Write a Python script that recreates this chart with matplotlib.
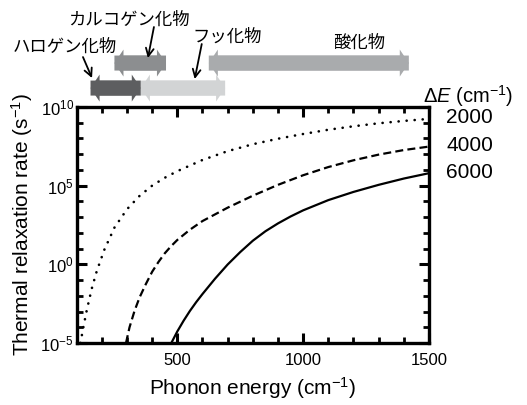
import numpy as np
import matplotlib
matplotlib.use("Agg")
import matplotlib.pyplot as plt
import matplotlib.ticker as mtick
from matplotlib.patches import FancyArrow

plt.rcParams["font.family"] = ["Liberation Sans", "DejaVu Sans"]
plt.rcParams["mathtext.fontset"] = "custom"
plt.rcParams["mathtext.rm"] = "Liberation Sans"
plt.rcParams["mathtext.it"] = "Liberation Sans:italic"
JP = ["Noto Sans CJK JP", "DejaVu Sans"]

# phonon energy (cm-1) -> log10 of thermal relaxation rate (s-1), per energy gap
gap_labels = ["2000", "4000", "6000"]
x_2000 = [115, 125, 140, 160, 180, 210, 250, 300, 350, 400, 450, 500, 600, 700,
          800, 900, 1000, 1100, 1200, 1300, 1400, 1500]
logw_2000 = [-5, -4.12, -2.92, -1.54, -0.42, 0.93, 2.33, 3.5, 4.35, 5.0, 5.5,
             5.92, 6.63, 7.19, 7.63, 7.98, 8.28, 8.55, 8.77, 8.96, 9.11, 9.24]
x_4000 = [296, 310, 330, 350, 375, 400, 425, 450, 475, 500, 550, 600, 700, 800,
          900, 1000, 1100, 1200, 1300, 1400, 1500]
logw_4000 = [-5, -4.0, -2.95, -2.1, -1.25, -0.47, 0.15, 0.7, 1.15, 1.55, 2.2,
             2.75, 3.6, 4.36, 5.05, 5.66, 6.18, 6.61, 6.97, 7.26, 7.48]
x_6000 = [476, 500, 525, 550, 575, 600, 650, 700, 750, 800, 850, 900, 950, 1000,
          1100, 1200, 1300, 1400, 1500]
logw_6000 = [-5, -4.26, -3.58, -2.96, -2.4, -1.885, -0.91, -0.01, 0.78, 1.5,
             2.1, 2.6, 3.04, 3.43, 4.08, 4.6, 5.05, 5.45, 5.79]

# phonon energy ranges of host materials (cm-1)
host_names = ["ハロゲン化物", "カルコゲン化物", "フッ化物", "酸化物"]
host_lo = [155, 250, 355, 625]
host_hi = [355, 455, 690, 1420]
host_colors = ["#5d5e60", "#8c8e90", "#d2d4d5", "#a9abad"]
host_row = [88, 63, 88, 63]

fig = plt.figure(figsize=(5.27, 4.05), dpi=100)
ax = fig.add_axes([0.1455, 0.153, 0.6685, 0.583])
top = fig.add_axes([0.1455, 0.743, 0.6685, 0.257], sharex=ax)

ax.plot(x_2000, 10.0 ** np.array(logw_2000), color="black", lw=1.9,
        dashes=(0.05, 3.0), dash_capstyle="round")
ax.plot(x_4000, 10.0 ** np.array(logw_4000), color="black", lw=1.6,
        dashes=(3.6, 1.9))
ax.plot(x_6000, 10.0 ** np.array(logw_6000), color="black", lw=1.6)

ax.set_yscale("log")
ax.set_xlim(100, 1500)
ax.set_ylim(1e-5, 1e10)
ax.yaxis.set_major_locator(mtick.FixedLocator([1e-5, 1e0, 1e5, 1e10]))
ax.yaxis.set_minor_locator(mtick.FixedLocator([10.0 ** k for k in range(-5, 11)]))
ax.yaxis.set_minor_formatter(mtick.NullFormatter())
ax.yaxis.set_major_formatter(mtick.LogFormatterMathtext())
ax.xaxis.set_major_locator(mtick.FixedLocator([500, 1000, 1500]))
ax.xaxis.set_minor_locator(mtick.MultipleLocator(100))

for sp in ax.spines.values():
    sp.set_linewidth(2.4)
ax.tick_params(which="both", direction="in", top=True, right=True, labelsize=12)
ax.tick_params(which="major", length=7, width=2.2)
ax.tick_params(which="minor", length=4.5, width=2)
ax.tick_params(axis="y", which="major", pad=2)
ax.tick_params(axis="x", which="major", pad=7)

ax.set_xlabel("Phonon energy (cm$^{\\mathregular{-1}}$)", fontsize=15, labelpad=5)
ax.set_ylabel("Thermal relaxation rate (s$^{\\mathregular{-1}}$)", fontsize=15,
              labelpad=4)

ax.text(1.112, 1.045, "\u0394$\\it{E}$ (cm$^{\\mathregular{-1}}$)",
        transform=ax.transAxes, fontsize=14.5, ha="center", va="center")
for lab, yy in zip(gap_labels, [0.955, 0.837, 0.722]):
    ax.text(1.116, yy, lab, transform=ax.transAxes, fontsize=15,
            ha="center", va="center")

# host material arrows (two full-length arrows, heads at opposite ends)
top.set_ylim(104, 0)
top.axis("off")
head_len = 36
for lo, hi, c, yr in zip(host_lo, host_hi, host_colors, host_row):
    for start, end in ((lo, hi), (hi, lo)):
        top.add_patch(FancyArrow(start, yr, end - start, 0, width=15,
                                 head_width=27, head_length=head_len,
                                 length_includes_head=True, color=c, lw=0))

top.text(52, 47, host_names[0], fontsize=12.5, family=JP, ha="center", va="center")
top.text(306, 20, host_names[1], fontsize=12.5, family=JP, ha="center", va="center")
top.text(698, 37, host_names[2], fontsize=12.5, family=JP, ha="center", va="center")
top.text(1224, 43, host_names[3], fontsize=12.5, family=JP, ha="center", va="center")

arrowprops = dict(arrowstyle="->", color="black", lw=1.3, mutation_scale=14,
                  shrinkA=0, shrinkB=0)
top.annotate("", xy=(161, 78), xytext=(125, 57), arrowprops=arrowprops,
             annotation_clip=False)
top.annotate("", xy=(383, 58), xytext=(407, 27), arrowprops=arrowprops,
             annotation_clip=False)
top.annotate("", xy=(569, 79), xytext=(597, 44), arrowprops=arrowprops,
             annotation_clip=False)

fig.savefig("out.png", dpi=100)
